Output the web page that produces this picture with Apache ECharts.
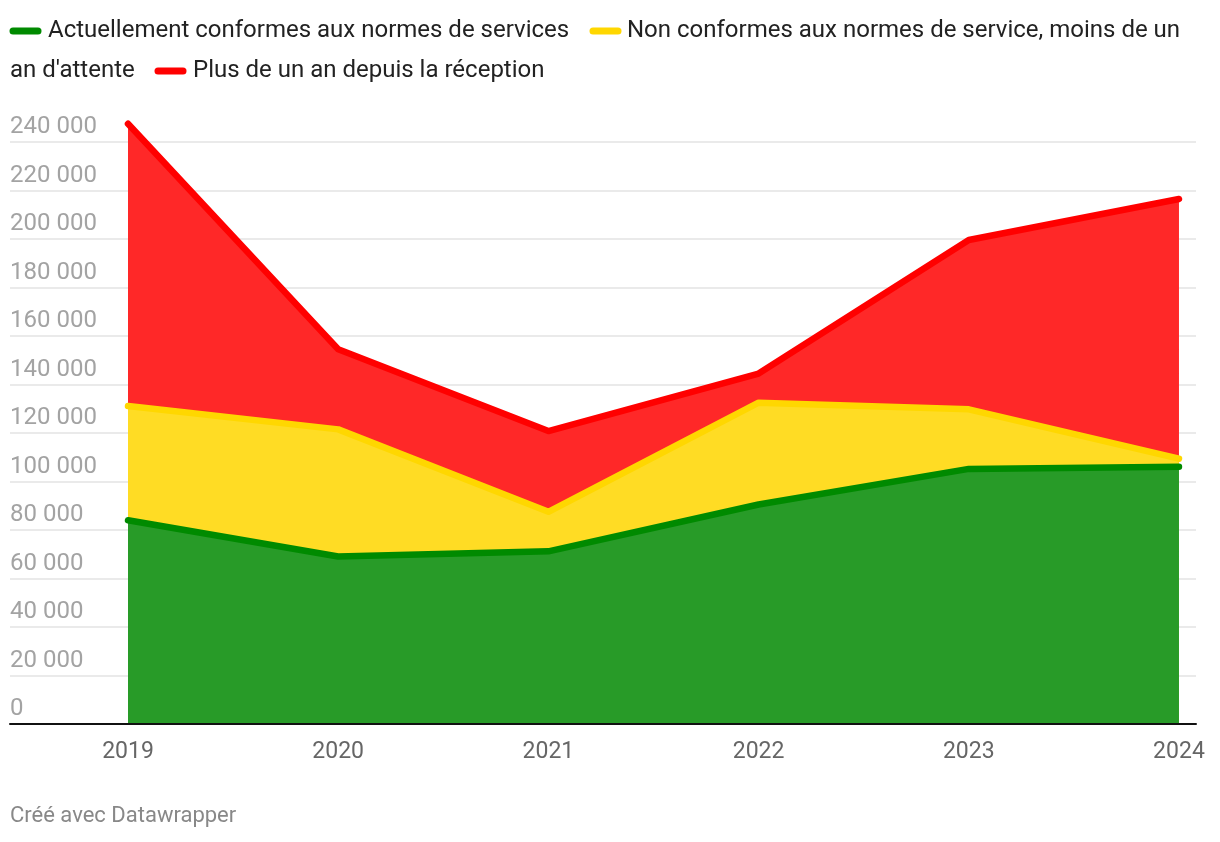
<!DOCTYPE html>
<html>
<head>
<meta charset="utf-8">
<script src="https://cdn.jsdelivr.net/npm/echarts@6/dist/echarts.min.js"></script>
<style>
html,body{margin:0;padding:0;background:#fff;}
#chart{width:1220px;height:842px;}
</style>
</head>
<body>
<div id="chart"></div>
<script>
const years = [2019, 2020, 2021, 2022, 2023, 2024];
const seriesNames = [
  "Actuellement conformes aux normes de services",
  "Non conformes aux normes de service, moins de un an d'attente",
  "Plus de un an depuis la réception"
];
// stacked components
const conformes = [84000, 69100, 71200, 90500, 105200, 106100];
const moinsUnAn = [47100, 52400, 16300, 42000, 24550, 3300];
const plusUnAn = [116400, 33000, 33300, 12000, 69850, 107100];
const yTicks = [0, 20000, 40000, 60000, 80000, 100000, 120000, 140000, 160000, 180000, 200000, 220000, 240000];

const lineColors = ["#008a00", "#ffd700", "#ff0000"];
const fillColors = ["#289b28", "#ffdc24", "#ff2828"];
const FONT = "Roboto";

const chart = echarts.init(document.getElementById('chart'), null, {renderer: 'canvas'});

// cumulative tops of the stack
const layers = [conformes, moinsUnAn, plusUnAn];
const cum = [];
layers.forEach((arr, i) => {
  cum.push(arr.map((v, k) => v + (i > 0 ? cum[i - 1][k] : 0)));
});

function mk(i) {
  return {
    name: seriesNames[i],
    type: 'line',
    clip: false,
    symbol: 'none',
    data: cum[i].map((v, k) => [years[k], v]),
    lineStyle: {color: lineColors[i], width: 6.5, cap: 'round', join: 'round'},
    itemStyle: {color: lineColors[i]},
    areaStyle: {color: fillColors[i], opacity: 1, origin: 'start'},
    z: 5 - i
  };
}

const fmt = v => String(v).replace(/\B(?=(\d{3})+(?!\d))/g, ' ');

const option = {
  animation: false,
  backgroundColor: '#ffffff',
  textStyle: {fontFamily: FONT},
  grid: {left: 10, right: 24, top: 142, bottom: 118, containLabel: false},
  xAxis: {
    type: 'value',
    min: 2018.4386,
    max: 2024.081,
    splitLine: {show: false},
    axisLine: {show: true, onZero: false, lineStyle: {color: '#111', width: 2}},
    axisTick: {show: false, customValues: years},
    axisLabel: {
      customValues: years,
      formatter: v => String(Math.round(v)),
      color: '#666',
      fontSize: 23,
      fontFamily: FONT,
      margin: 17
    },
    z: 10
  },
  yAxis: {
    type: 'value',
    min: 0,
    max: 240000,
    interval: 20000,
    axisLine: {show: false},
    axisTick: {show: false},
    splitLine: {show: true, lineStyle: {color: '#e3e3e3', width: 1.5}},
    axisLabel: {
      inside: true,
      margin: 0,
      verticalAlign: 'bottom',
      align: 'left',
      padding: [0, 0, 3, 0],
      color: '#a3a3a3',
      fontSize: 24,
      fontFamily: FONT,
      formatter: v => fmt(v)
    }
  },
  series: [mk(2), mk(1), mk(0)],
  graphic: [
    {type: 'line', shape: {x1: 13, y1: 31, x2: 38, y2: 31}, style: {stroke: lineColors[0], lineWidth: 7, lineCap: 'round'}},
    {type: 'text', left: 48, top: 19, style: {text: seriesNames[0], fill: '#222', font: '24px ' + FONT}},
    {type: 'line', shape: {x1: 593, y1: 31, x2: 618, y2: 31}, style: {stroke: lineColors[1], lineWidth: 7, lineCap: 'round'}},
    {type: 'text', left: 627, top: 19, style: {text: 'Non conformes aux normes de service, moins de un', fill: '#222', font: '24px ' + FONT}},
    {type: 'text', left: 10, top: 59, style: {text: "an d'attente", fill: '#222', font: '24px ' + FONT}},
    {type: 'line', shape: {x1: 158, y1: 71, x2: 183, y2: 71}, style: {stroke: lineColors[2], lineWidth: 7, lineCap: 'round'}},
    {type: 'text', left: 193, top: 59, style: {text: seriesNames[2], fill: '#222', font: '24px ' + FONT}},
    {type: 'text', left: 10, top: 805, style: {text: 'Créé avec Datawrapper', fill: '#888888', font: '22px ' + FONT}}
  ]
};
chart.setOption(option);
</script>
</body>
</html>
